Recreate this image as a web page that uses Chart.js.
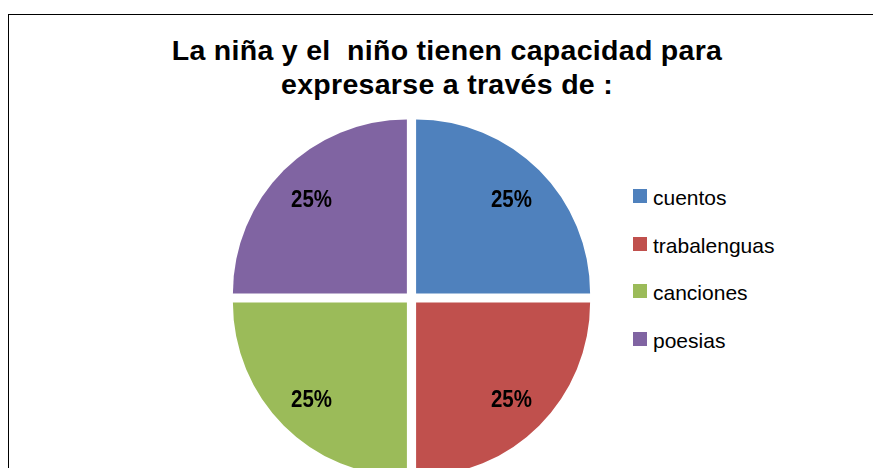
<!DOCTYPE html>
<html>
<head>
<meta charset="utf-8">
<script src="https://cdn.jsdelivr.net/npm/chart.js@4.4.1/dist/chart.umd.min.js"></script>
<style>
  html, body { margin: 0; padding: 0; width: 873px; height: 468px; overflow: hidden; background: #fff; }
  body { position: relative; font-family: "Liberation Sans", Arial, sans-serif; }
  #frame { position: absolute; left: 8px; top: 14px; width: 900px; height: 500px; border: 1px solid #000; }
  #title {
    position: absolute; left: 22px; width: 850px; top: 34px;
    text-align: center; font-weight: bold; font-size: 28.5px; line-height: 33.5px;
    letter-spacing: 0.3px; white-space: pre; color: #000;
  }
  #pie { position: absolute; left: 211px; top: 98px; }
  .item { position: absolute; left: 633px; height: 21px; line-height: 21px; font-size: 21px; padding-left: 20px; color: #000; white-space: nowrap; }
  .item i { position: absolute; left: 0; top: 2px; width: 14px; height: 14px; }
</style>
</head>
<body>
<div id="frame"></div>
<div id="title">La niña y el  niño tienen capacidad para
expresarse a través de :</div>
<canvas id="pie" width="401" height="400"></canvas>
<div id="legend"></div>
<script>
const labels = ["cuentos", "trabalenguas", "canciones", "poesias"];
const values = [25, 25, 25, 25];
const colors = ["#4F81BD", "#C0504D", "#9BBB59", "#8064A2"];

const OFFSET = 26; // Chart.js shifts arcs by offset / 4

// html legend
const legend = document.getElementById("legend");
labels.forEach((name, i) => {
  const d = document.createElement("div");
  d.className = "item";
  d.style.top = (187 + i * 47.5) + "px";
  d.innerHTML = '<i style="background:' + colors[i] + '"></i>' + name;
  legend.appendChild(d);
});

const percentLabels = {
  id: "percentLabels",
  afterDatasetsDraw(chart) {
    const ctx = chart.ctx;
    const total = values.reduce((a, b) => a + b, 0);
    const arcs = chart.getDatasetMeta(0).data;
    ctx.save();
    ctx.font = "bold 23px 'Liberation Sans', Arial, sans-serif";
    ctx.fillStyle = "#000";
    ctx.textAlign = "center";
    ctx.textBaseline = "middle";
    arcs.forEach((arc, i) => {
      const p = arc.getProps(["x", "y", "startAngle", "endAngle", "outerRadius"], true);
      const mid = (p.startAngle + p.endAngle) / 2;
      const r = p.outerRadius * 0.775 + OFFSET / 4;
      const txt = Math.round(values[i] / total * 100) + "%";
      const tx = p.x + Math.cos(mid) * r;
      const ty = p.y + Math.sin(mid) * r + 3;
      ctx.save();
      ctx.translate(tx, ty);
      ctx.scale(0.89, 1); // narrow glyphs like the original
      ctx.fillText(txt, 0, 0);
      ctx.restore();
    });
    ctx.restore();
  },
};

new Chart(document.getElementById("pie"), {
  type: "pie",
  data: {
    labels: labels,
    datasets: [
      {
        data: values,
        backgroundColor: colors,
        borderWidth: 0,
        offset: OFFSET,
        hoverOffset: 0,
      },
    ],
  },
  options: {
    responsive: false,
    animation: false,
    radius: 174,
    events: [],
    layout: { padding: 0 },
    plugins: {
      legend: { display: false },
      title: { display: false },
      tooltip: { enabled: false },
    },
  },
  plugins: [percentLabels],
});
</script>
</body>
</html>
